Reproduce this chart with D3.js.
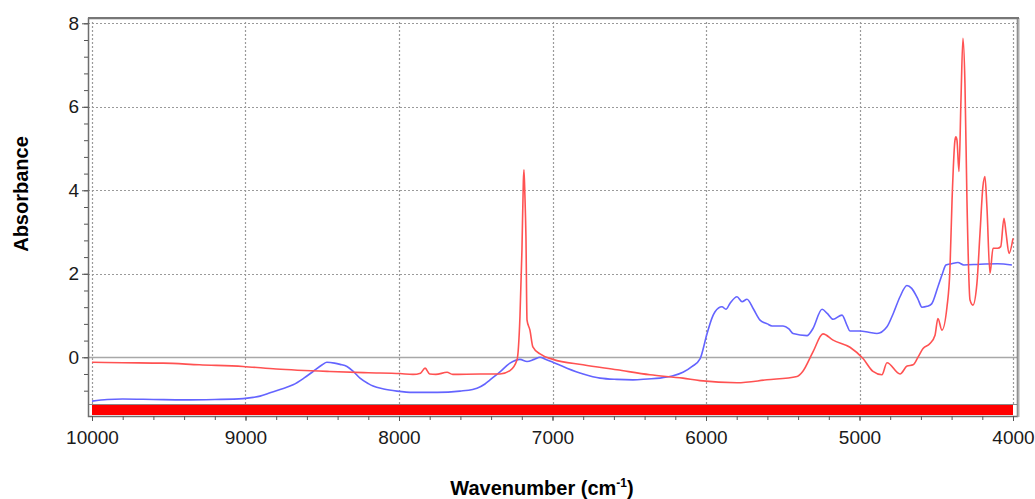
<!DOCTYPE html>
<html>
<head>
<meta charset="utf-8">
<script src="https://cdn.jsdelivr.net/npm/d3@7"></script>
<style>
  html, body { margin: 0; padding: 0; background: #fff; }
  svg { display: block; font-family: "Liberation Sans", Arial, sans-serif; }
  .tick text { fill: #1a1a1a; }
</style>
</head>
<body>
<div id="view"></div>
<script>
// spectrum 1 (blue): [wavenumber, absorbance]
const BLUE = [
  [10000,-1.05],[9900,-1.01],[9800,-1.00],[9600,-1.01],[9400,-1.02],[9200,-1.01],[9016,-0.99],
  [8950,-0.96],[8905,-0.93],[8840,-0.85],[8775,-0.77],[8690,-0.66],[8620,-0.50],[8560,-0.34],
  [8500,-0.18],[8470,-0.12],[8420,-0.14],[8384,-0.17],[8339,-0.22],[8300,-0.33],[8254,-0.50],
  [8200,-0.63],[8169,-0.69],[8100,-0.76],[8013,-0.81],[7909,-0.84],[7750,-0.84],[7603,-0.81],
  [7520,-0.77],[7492,-0.74],[7440,-0.64],[7407,-0.54],[7342,-0.35],[7277,-0.14],[7212,-0.05],
  [7166,-0.10],[7120,-0.05],[7081,0.00],[7050,-0.04],[6997,-0.12],[6906,-0.26],[6800,-0.40],
  [6690,-0.50],[6580,-0.53],[6476,-0.54],[6380,-0.52],[6300,-0.50],[6220,-0.45],[6150,-0.36],
  [6090,-0.22],[6039,-0.04],[5993,0.57],[5960,0.95],[5941,1.09],[5896,1.21],[5870,1.15],
  [5844,1.29],[5798,1.45],[5765,1.33],[5733,1.39],[5690,1.15],[5648,0.89],[5600,0.80],
  [5570,0.75],[5498,0.75],[5460,0.68],[5433,0.57],[5342,0.52],[5303,0.69],[5244,1.15],
  [5210,1.05],[5172,0.91],[5114,1.01],[5080,0.75],[5062,0.63],[4997,0.63],[4940,0.60],
  [4886,0.57],[4821,0.73],[4780,1.05],[4736,1.45],[4691,1.72],[4660,1.65],[4620,1.40],
  [4593,1.20],[4560,1.22],[4530,1.28],[4489,1.69],[4460,2.00],[4437,2.21],[4400,2.24],
  [4359,2.27],[4320,2.21],[4215,2.23],[4100,2.24],[4007,2.21]
];

// spectrum 2 (red)
const RED = [
  [10000,-0.12],[9800,-0.13],[9537,-0.14],[9300,-0.18],[9016,-0.22],[8800,-0.28],[8450,-0.34],
  [8200,-0.37],[7993,-0.39],[7909,-0.41],[7860,-0.38],[7830,-0.26],[7800,-0.40],[7760,-0.41],
  [7687,-0.36],[7650,-0.41],[7472,-0.40],[7342,-0.40],[7277,-0.32],[7231,-0.06],[7212,0.97],
  [7199,2.57],[7190,4.20],[7186,4.49],[7180,3.90],[7173,2.89],[7166,0.89],[7147,0.65],
  [7128,0.25],[7081,0.08],[6997,-0.05],[6801,-0.18],[6580,-0.30],[6365,-0.42],[6150,-0.50],
  [6039,-0.56],[5798,-0.61],[5603,-0.54],[5407,-0.46],[5370,-0.34],[5303,0.13],[5238,0.56],
  [5172,0.41],[5062,0.24],[4977,-0.03],[4912,-0.34],[4854,-0.42],[4821,-0.13],[4736,-0.40],
  [4690,-0.21],[4651,-0.18],[4618,0.01],[4586,0.21],[4541,0.33],[4508,0.53],[4489,0.93],
  [4463,0.65],[4430,1.21],[4411,2.09],[4397,3.77],[4378,5.20],[4372,5.28],[4365,5.20],
  [4352,4.45],[4339,6.16],[4326,7.64],[4313,6.56],[4300,3.77],[4280,1.37],[4261,1.25],
  [4235,1.77],[4215,2.97],[4196,4.09],[4183,4.33],[4170,3.61],[4150,2.01],[4130,2.61],
  [4100,2.61],[4080,2.65],[4059,3.33],[4045,2.97],[4026,2.49],[4000,2.85]
];

const X_MAJOR = [10000, 9000, 8000, 7000, 6000, 5000, 4000];
const X_MINOR = d3.range(4000, 10001, 200);
const Y_MAJOR = [0, 2, 4, 6, 8];
const Y_MINOR = d3.range(-2, 21).map(i => +(i * 0.4).toFixed(1));
const Y_GRID  = [2, 4, 6, 8];

const W = 1035, H = 499;
// frame box and data area
const F = { l: 88, r: 1017, t: 18, b: 416 };
const plotBottom = 404;   // top of the red band

const svg = d3.select("#view").append("svg")
  .attr("width", W).attr("height", H);

const x = d3.scaleLinear().domain([10000, 4000]).range([92, 1013]);
const y = d3.scaleLinear().domain([-1.119, 8.127]).range([plotBottom, F.t]);

svg.append("defs").append("clipPath").attr("id", "clip")
  .append("rect")
  .attr("x", F.l).attr("y", F.t)
  .attr("width", F.r - F.l).attr("height", plotBottom - F.t);

// dotted grid
const grid = svg.append("g").attr("stroke", "#9a9a9a").attr("stroke-width", 1.2)
  .attr("stroke-dasharray", "2,2");
grid.selectAll("line.gx").data(X_MAJOR).join("line")
  .attr("class", "gx")
  .attr("x1", d => Math.round(x(d)) + 0.5).attr("x2", d => Math.round(x(d)) + 0.5)
  .attr("y1", F.t + 4).attr("y2", plotBottom);
grid.selectAll("line.gy").data(Y_GRID).join("line")
  .attr("class", "gy")
  .attr("x1", F.l).attr("x2", F.r)
  .attr("y1", d => Math.round(y(d)) + 0.5).attr("y2", d => Math.round(y(d)) + 0.5);

// zero line
svg.append("line")
  .attr("x1", F.l).attr("x2", F.r)
  .attr("y1", Math.round(y(0)) + 0.5).attr("y2", Math.round(y(0)) + 0.5)
  .attr("stroke", "#a8a8a8").attr("stroke-width", 1.5);

// spectra (pixel x increases, so monotoneX is fine)
const line = d3.line().x(d => x(d[0])).y(d => y(d[1])).curve(d3.curveMonotoneX);
const lines = svg.append("g").attr("clip-path", "url(#clip)").attr("fill", "none")
  .attr("stroke-width", 1.6).attr("stroke-linejoin", "round");
lines.append("path").datum(BLUE).attr("stroke", "#6464ff").attr("d", line);
lines.append("path").datum(RED).attr("stroke", "#ff5252").attr("d", line);

// red band under the plot
svg.append("rect")
  .attr("x", x(10000)).attr("y", plotBottom)
  .attr("width", x(4000) - x(10000)).attr("height", F.b - plotBottom - 1)
  .attr("fill", "#ff0000");
svg.append("line")
  .attr("x1", F.l).attr("x2", F.r).attr("y1", plotBottom + 0.5).attr("y2", plotBottom + 0.5)
  .attr("stroke", "#8a8a8a").attr("stroke-width", 1);

// frame
svg.append("rect")
  .attr("x", F.l + 0.5).attr("y", F.t + 0.5)
  .attr("width", F.r - F.l).attr("height", F.b - F.t)
  .attr("fill", "none").attr("stroke", "#6e6e6e").attr("stroke-width", 1.5);
svg.append("line")
  .attr("x1", F.r + 1.5).attr("x2", F.r + 1.5).attr("y1", F.t).attr("y2", F.b + 1)
  .attr("stroke", "#b0b0b0").attr("stroke-width", 2);
svg.append("line")
  .attr("x1", F.l).attr("x2", F.r + 2).attr("y1", F.t).attr("y2", F.t)
  .attr("stroke", "#777").attr("stroke-width", 2);

// axes
const fontSize = "19px";
const xMinor = svg.append("g").attr("transform", `translate(0,${F.b})`)
  .call(d3.axisBottom(x).tickValues(X_MINOR).tickSize(4).tickSizeOuter(0).tickFormat(""));
xMinor.select(".domain").remove();
const xAxis = svg.append("g").attr("transform", `translate(0,${F.b})`)
  .call(d3.axisBottom(x).tickValues(X_MAJOR).tickSize(5).tickSizeOuter(0).tickPadding(10)
    .tickFormat(d3.format("d")));
xAxis.select(".domain").remove();
xAxis.selectAll("text").style("font-size", fontSize);

const yMinor = svg.append("g").attr("transform", `translate(${F.l},0)`)
  .call(d3.axisLeft(y).tickValues(Y_MINOR).tickSize(4).tickSizeOuter(0).tickFormat(""));
yMinor.select(".domain").remove();
const yAxis = svg.append("g").attr("transform", `translate(${F.l},0)`)
  .call(d3.axisLeft(y).tickValues(Y_MAJOR).tickSize(6).tickSizeOuter(0).tickPadding(3)
    .tickFormat(d3.format("d")));
yAxis.select(".domain").remove();
yAxis.selectAll("text").style("font-size", fontSize);
svg.selectAll(".tick line").attr("stroke", "#555");

// axis titles
svg.append("text")
  .attr("transform", "translate(28,194) rotate(-90)")
  .attr("text-anchor", "middle")
  .style("font-weight", 700).style("font-size", "20px")
  .text("Absorbance");

const xt = svg.append("text")
  .attr("x", 542).attr("y", 495)
  .attr("text-anchor", "middle")
  .style("font-weight", 700).style("font-size", "20px");
xt.append("tspan").text("Wavenumber (cm");
xt.append("tspan").attr("dy", -8).style("font-size", "12px").text("-1");
xt.append("tspan").attr("dy", 8).text(")");
</script>
</body>
</html>
